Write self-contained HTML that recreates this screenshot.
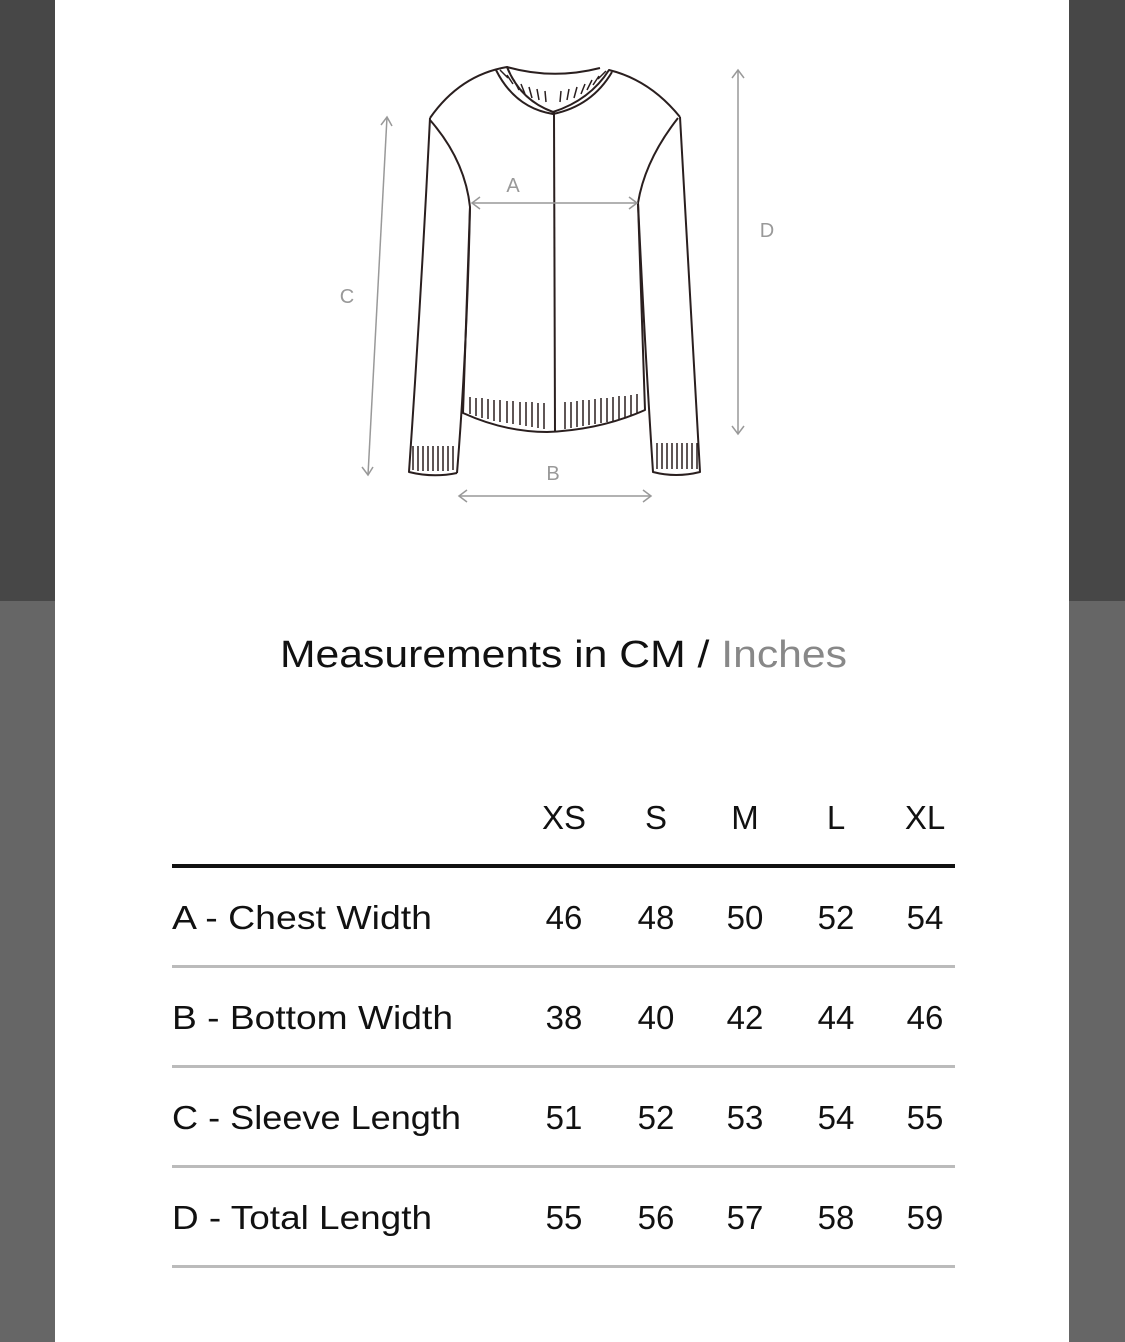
<!DOCTYPE html>
<html><head><meta charset="utf-8"><style>
html,body{margin:0;padding:0;background:#fff}
svg{display:block}
text{font-family:"Liberation Sans",sans-serif}
</style></head><body>
<svg width="1125" height="1342" viewBox="0 0 1125 1342" xmlns="http://www.w3.org/2000/svg">
<rect x="0" y="0" width="1125" height="1342" fill="#fff"/>
<rect x="0" y="0" width="55" height="601" fill="#474747"/>
<rect x="0" y="601" width="55" height="741" fill="#666"/>
<rect x="1069" y="0" width="56" height="601" fill="#474747"/>
<rect x="1069" y="601" width="56" height="741" fill="#666"/>
<g fill="none" stroke="#2a1f1f" stroke-width="2" stroke-linejoin="round">
 <path d="M507,67 Q553,80 600,68"/>
 <path d="M430,118 Q460,75 507,67 Q520,100 553,112 Q590,100 609,70 Q650,80 680,117"/>
 <path d="M496,70 Q515,108 553,114 Q592,106 612,72"/>
 <path d="M430,118 Q421,300 409,472 Q433,478 457,473"/>
 <path d="M430,120 Q465,160 470,207 L463,413 Q505,432 547,432 Q600,430 645,410 L638,203 Q645,160 678,118"/>
 <path d="M470,207 Q467,350 457,473"/>
 <path d="M638,203 Q645,350 653,472 Q676,478 700,472 Q690,300 680,117"/>
 <path d="M554,112 L555,432"/>
</g>
<g stroke="#2a1f1f" stroke-width="1.5">
 <path d="M470,397v17M476,398v18M482,398v20M488,399v20M494,400v21M500,400v22M507,401v22M513,401v23M520,402v23M526,402v24M532,402v25M538,403v25M544,403v26M565,402v27M571,402v26M577,401v26M583,400v26M589,400v25M595,399v25M601,398v25M607,398v24M613,397v24M619,396v23M625,396v22M631,395v21M637,394v19"/>
 <path d="M413,446v24M418,446v25M423,446v25M428,446v25M433,446v25M438,446v25M443,446v25M448,446v25M453,446v24"/>
 <path d="M657,443v26M662,443v26M667,443v26M672,443v26M677,443v26M682,443v26M687,443v26M692,443v26M697,443v26"/>
 <path d="M500,70l8,8M507,75l6,9M514,80l5,10M521,84l4,10M529,87l3,11M537,89l2,11M545,91l1,11M561,91l-1,11M569,89l-2,11M577,87l-3,11M585,84l-4,10M592,80l-5,10M599,76l-6,9M606,71l-8,8"/>
</g>
<g fill="none" stroke="#999" stroke-width="1.5">
 <path d="M387,117 L368,475"/><path d="M381,125 L387,117 L392,126"/><path d="M362,467 L368,475 L373,467"/>
 <path d="M738,70 L738,434"/><path d="M732,78 L738,70 L744,78"/><path d="M732,426 L738,434 L744,426"/>
 <path d="M472,203 L637,203"/><path d="M480,197 L472,203 L480,209"/><path d="M629,197 L637,203 L629,209"/>
 <path d="M459,496 L651,496"/><path d="M467,490 L459,496 L467,502"/><path d="M643,490 L651,496 L643,502"/>
</g>
<g fill="#999" font-size="20" text-anchor="middle">
 <text x="513" y="192">A</text><text x="553" y="480">B</text><text x="347" y="303">C</text><text x="767" y="237">D</text>
</g>
<text x="280" y="667" font-size="38" textLength="567" lengthAdjust="spacingAndGlyphs" fill="#111">Measurements in CM / <tspan fill="#888">Inches</tspan></text>
<g font-size="33" fill="#111" text-anchor="middle">
 <text x="564" y="829">XS</text><text x="656" y="829">S</text><text x="745" y="829">M</text><text x="836" y="829">L</text><text x="925" y="829">XL</text>
 <text x="564" y="929">46</text><text x="656" y="929">48</text><text x="745" y="929">50</text><text x="836" y="929">52</text><text x="925" y="929">54</text>
 <text x="564" y="1029">38</text><text x="656" y="1029">40</text><text x="745" y="1029">42</text><text x="836" y="1029">44</text><text x="925" y="1029">46</text>
 <text x="564" y="1129">51</text><text x="656" y="1129">52</text><text x="745" y="1129">53</text><text x="836" y="1129">54</text><text x="925" y="1129">55</text>
 <text x="564" y="1229">55</text><text x="656" y="1229">56</text><text x="745" y="1229">57</text><text x="836" y="1229">58</text><text x="925" y="1229">59</text>
</g>
<g font-size="33" fill="#111">
 <text x="172" y="929" textLength="260" lengthAdjust="spacingAndGlyphs">A - Chest Width</text>
 <text x="172" y="1029" textLength="281" lengthAdjust="spacingAndGlyphs">B - Bottom Width</text>
 <text x="172" y="1129" textLength="289" lengthAdjust="spacingAndGlyphs">C - Sleeve Length</text>
 <text x="172" y="1229" textLength="260" lengthAdjust="spacingAndGlyphs">D - Total Length</text>
</g>
<rect x="172" y="864" width="783" height="4" fill="#111"/>
<rect x="172" y="965" width="783" height="3" fill="#bbb"/>
<rect x="172" y="1065" width="783" height="3" fill="#bbb"/>
<rect x="172" y="1165" width="783" height="3" fill="#bbb"/>
<rect x="172" y="1265" width="783" height="3" fill="#bbb"/>
</svg>
</body></html>
